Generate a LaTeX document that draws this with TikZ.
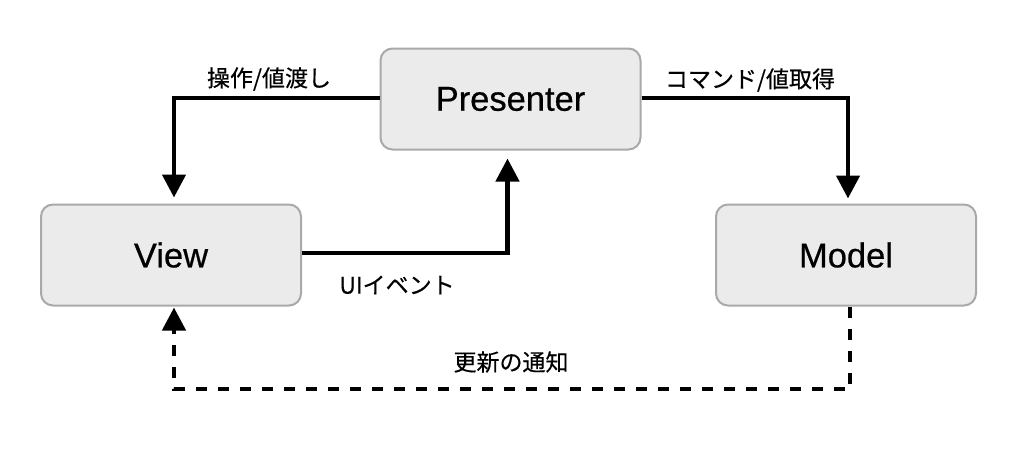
\documentclass[tikz,border=0pt]{standalone}
\usepackage{fontspec}
\setmainfont{Liberation Sans}[FakeBold=0.6]
\newfontfamily\boxfont{Liberation Sans}[FakeBold=0.6]
\newfontfamily\jpfont{Noto Sans CJK JP}[FakeBold=0.4]
\usetikzlibrary{arrows.meta}
\definecolor{boxfill}{HTML}{EBEBEB}
\definecolor{boxline}{HTML}{A9A9A9}
\begin{document}
\begin{tikzpicture}[x=1pt,y=-1pt,
  comp/.style={draw=boxline, line width=2pt, fill=boxfill, rounded corners=12pt,
    minimum width=260pt, minimum height=101pt, inner sep=0pt,
    font=\boxfont\fontsize{34.5}{38}\selectfont},
  conn/.style={line width=4.5pt, -{Triangle[length=23pt,width=23pt]}},
  dconn/.style={conn, dash pattern=on 11pt off 11pt},
  lbl/.style={font=\jpfont\fontsize{23}{26}\selectfont, inner sep=0pt}]
\useasboundingbox (0,0) rectangle (1030,456);
\node[comp] (P) at (510.5,99) {Presenter};
\node[comp] (V) at (171,255) {View};
\node[comp] (M) at (846,255) {Model};
\coordinate (bl) at (174,389);
\draw[conn, shorten >=6pt] ([yshift=1pt]P.west) -| ([xshift=3pt]V.north);
\draw[conn, shorten >=5pt] ([yshift=1pt]P.east) -| ([xshift=2pt]M.north);
\draw[conn, shorten >=8pt] ([yshift=2pt]V.east) -| ([xshift=-3pt]P.south);
\draw[dconn, shorten >=1pt] ([xshift=4pt]M.south) |- (bl) -- (bl |- V.south);
\node[lbl] (l1) at (269,79) {操作/値渡し};
\node[lbl] (l2) at (750,80) {コマンド/値取得};
\node[lbl] (l3) at (397,285) {UIイベント};
\node[lbl] (l4) at (511,362) {更新の通知};
\end{tikzpicture}
\end{document}
